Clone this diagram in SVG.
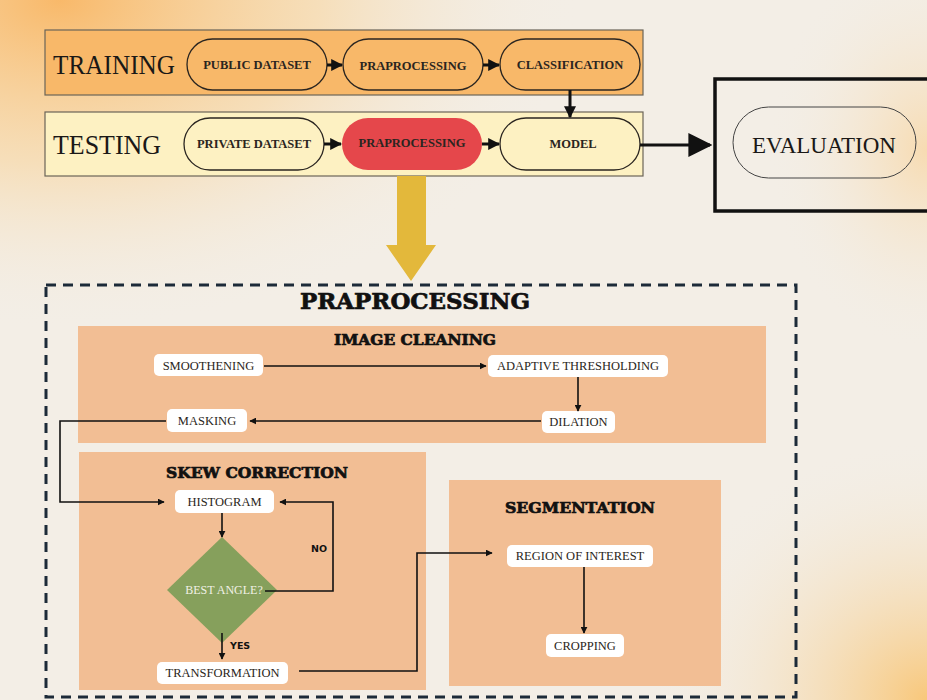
<svg xmlns="http://www.w3.org/2000/svg" width="927" height="700" viewBox="0 0 927 700">
<defs>
<radialGradient id="bgTL" cx="0" cy="0" r="1" gradientUnits="userSpaceOnUse" gradientTransform="translate(60 0) scale(520 330)">
<stop offset="0" stop-color="#F9B35C" stop-opacity="0.9"/>
<stop offset="0.5" stop-color="#F9CF8E" stop-opacity="0.5"/>
<stop offset="1" stop-color="#F3EEE6" stop-opacity="0"/>
</radialGradient>
<radialGradient id="bgBR" cx="0" cy="0" r="1" gradientUnits="userSpaceOnUse" gradientTransform="translate(927 700) scale(280 260)">
<stop offset="0" stop-color="#F9C36E" stop-opacity="0.9"/>
<stop offset="1" stop-color="#F3EEE6" stop-opacity="0"/>
</radialGradient>
<radialGradient id="bgTR" cx="0" cy="0" r="1" gradientUnits="userSpaceOnUse" gradientTransform="translate(927 150) scale(160 200)">
<stop offset="0" stop-color="#F9D39A" stop-opacity="0.7"/>
<stop offset="1" stop-color="#F3EEE6" stop-opacity="0"/>
</radialGradient>
<marker id="ah" viewBox="0 0 10 10" refX="9" refY="5" markerWidth="7" markerHeight="7" markerUnits="userSpaceOnUse" orient="auto">
<path d="M0,0 L10,5 L0,10 z" fill="#111"/>
</marker>
<marker id="ahBig" viewBox="0 0 10 10" refX="9" refY="5" markerWidth="12" markerHeight="12" markerUnits="userSpaceOnUse" orient="auto">
<path d="M0,0 L10,5 L0,10 z" fill="#111"/>
</marker>
<marker id="ahXL" viewBox="0 0 10 10" refX="9" refY="5" markerWidth="24" markerHeight="24" markerUnits="userSpaceOnUse" orient="auto">
<path d="M0,0 L10,5 L0,10 z" fill="#111"/>
</marker>
<style>
.band{stroke:#6b6458;stroke-width:1.2}
.pill{stroke:#2a2520;stroke-width:1.3}
.pt{font-family:"Liberation Serif","DejaVu Serif",serif;font-weight:bold;font-size:12.5px;fill:#2a2520;text-anchor:middle}
.big{font-family:"Liberation Serif","DejaVu Serif",serif;font-size:27px;fill:#1a1816}
.sec{fill:#F2BE94}
.lab{fill:#ffffff}
.lt{font-family:"Liberation Serif","DejaVu Serif",serif;font-size:12.5px;fill:#2a2520;text-anchor:middle}
.hd{font-family:"DejaVu Serif","Liberation Serif",serif;font-weight:900;fill:#111;stroke:#111;stroke-width:0.7;text-anchor:middle}
.ln{fill:none;stroke:#111;stroke-width:1.6}
.lnT{fill:none;stroke:#111;stroke-width:3}
.small{font-family:"DejaVu Sans","Liberation Sans",sans-serif;font-weight:bold;font-size:9.5px;fill:#111}
</style>
</defs>
<rect width="927" height="700" fill="#F3EEE6"/>
<rect width="927" height="700" fill="url(#bgTL)"/>
<rect width="927" height="700" fill="url(#bgBR)"/>
<rect width="927" height="700" fill="url(#bgTR)"/>

<g id="training-band">
<rect class="band" x="45" y="30" width="598" height="65" fill="#F8B869"/>
<text class="big" x="53" y="74" textLength="122" lengthAdjust="spacingAndGlyphs">TRAINING</text>
</g>
<g id="testing-band">
<rect class="band" x="45" y="112" width="598" height="64" fill="#FDF1C2"/>
<text class="big" x="53" y="154" textLength="108" lengthAdjust="spacingAndGlyphs">TESTING</text>
</g>

<g id="public-dataset">
<rect class="pill" x="187" y="39" width="140" height="51" rx="25.5" fill="#F8B869"/>
<text class="pt" x="257" y="69">PUBLIC DATASET</text>
</g>
<g id="praprocessing-train">
<rect class="pill" x="343" y="39" width="140" height="51" rx="25.5" fill="#F8B869"/>
<text class="pt" x="413" y="70">PRAPROCESSING</text>
</g>
<g id="classification">
<rect class="pill" x="500" y="39" width="140" height="51" rx="25.5" fill="#F8B869"/>
<text class="pt" x="570" y="69">CLASSIFICATION</text>
</g>
<g id="private-dataset">
<rect class="pill" x="184" y="118" width="140" height="52" rx="26" fill="#FDF1C2"/>
<text class="pt" x="254" y="148">PRIVATE DATASET</text>
</g>
<g id="praprocessing-test">
<rect x="342" y="118" width="140" height="52" rx="26" fill="#E5474B"/>
<text class="pt" x="412" y="147">PRAPROCESSING</text>
</g>
<g id="model">
<rect class="pill" x="500" y="118" width="140" height="52" rx="26" fill="#FDF1C2"/>
<text class="pt" x="573" y="148">MODEL</text>
</g>
<g id="evaluation">
<rect x="715" y="79" width="220" height="132" fill="none" stroke="#111" stroke-width="3.5"/>
<rect x="733" y="107" width="183" height="71" rx="35.5" fill="none" stroke="#444" stroke-width="1"/>
<text x="824" y="153" font-family="Liberation Serif,DejaVu Serif,serif" font-size="23" fill="#1a1816" text-anchor="middle">EVALUATION</text>
</g>

<g id="praprocessing-detail">
<rect x="46" y="285" width="750" height="412" fill="none" stroke="#1c2a38" stroke-width="3" stroke-dasharray="10 7"/>
<text class="hd" x="415" y="309" font-size="23" textLength="230" lengthAdjust="spacingAndGlyphs">PRAPROCESSING</text>
</g>

<g id="image-cleaning">
<rect class="sec" x="78" y="326" width="688" height="117"/>
<text class="hd" x="415" y="345" font-size="15" textLength="162" lengthAdjust="spacingAndGlyphs">IMAGE CLEANING</text>
</g>
<g id="smoothening">
<rect class="lab" x="154" y="354" width="109" height="22" rx="5"/>
<text class="lt" x="208.5" y="369.5">SMOOTHENING</text>
</g>
<g id="adaptive-thresholding">
<rect class="lab" x="488" y="355" width="180" height="22" rx="5"/>
<text class="lt" x="578" y="369.5">ADAPTIVE THRESHOLDING</text>
</g>
<g id="dilation">
<rect class="lab" x="542" y="411" width="73" height="22" rx="5"/>
<text class="lt" x="578.5" y="425.5">DILATION</text>
</g>
<g id="masking">
<rect class="lab" x="167" y="409" width="80" height="23" rx="5"/>
<text class="lt" x="207" y="424.5">MASKING</text>
</g>

<g id="skew-correction">
<rect class="sec" x="79" y="452" width="347" height="238"/>
<text class="hd" x="257" y="478" font-size="15" textLength="182" lengthAdjust="spacingAndGlyphs">SKEW CORRECTION</text>
</g>
<g id="histogram">
<rect class="lab" x="175" y="490" width="99" height="23" rx="5"/>
<text class="lt" x="224.5" y="505.5">HISTOGRAM</text>
</g>
<g id="best-angle">
<polygon points="222,537 277,590 222,643 167,590" fill="#86A05C"/>
<text x="224" y="594" font-family="Liberation Serif,DejaVu Serif,serif" font-size="12" fill="#F1F1E6" text-anchor="middle">BEST ANGLE?</text>
</g>
<g id="transformation">
<rect class="lab" x="157" y="662" width="131" height="22" rx="5"/>
<text class="lt" x="222.5" y="677">TRANSFORMATION</text>
</g>

<g id="segmentation">
<rect class="sec" x="449" y="480" width="272" height="206"/>
<text class="hd" x="580" y="513" font-size="15" textLength="150" lengthAdjust="spacingAndGlyphs">SEGMENTATION</text>
</g>
<g id="region-of-interest">
<rect class="lab" x="507" y="545" width="146" height="22" rx="5"/>
<text class="lt" x="580" y="559.5">REGION OF INTEREST</text>
</g>
<g id="cropping">
<rect class="lab" x="546" y="634" width="78" height="23" rx="5"/>
<text class="lt" x="585" y="649.5">CROPPING</text>
</g>

<g id="connectors">
<line class="lnT" x1="327" y1="65" x2="342" y2="65" marker-end="url(#ahBig)"/>
<line class="lnT" x1="483" y1="65" x2="499" y2="65" marker-end="url(#ahBig)"/>
<line class="lnT" x1="570" y1="90" x2="570" y2="117" marker-end="url(#ahBig)"/>
<line class="lnT" x1="324" y1="144" x2="341" y2="144" marker-end="url(#ahBig)"/>
<line class="lnT" x1="482" y1="144" x2="499" y2="144" marker-end="url(#ahBig)"/>
<line class="lnT" x1="640" y1="145" x2="710" y2="145" marker-end="url(#ahXL)"/>
<path d="M397,176 H426 V245 H436 L411,281 L386,245 H397 Z" fill="#E3B83B"/>
<line class="ln" x1="264" y1="366" x2="486" y2="366" marker-end="url(#ah)"/>
<line class="ln" x1="578" y1="377" x2="578" y2="411" marker-end="url(#ah)"/>
<line class="ln" x1="541" y1="421" x2="250" y2="421" marker-end="url(#ah)"/>
<polyline class="ln" points="166,421 60,421 60,502 164,502" marker-end="url(#ah)"/>
<line class="ln" x1="222" y1="513" x2="222" y2="537" marker-end="url(#ah)"/>
<polyline class="ln" points="265,591 333,591 333,502 280,502" marker-end="url(#ah)"/>
<line class="ln" x1="222" y1="633" x2="222" y2="659" marker-end="url(#ah)"/>
<polyline class="ln" points="299,671 417,671 417,553 492,553" marker-end="url(#ah)"/>
<line class="ln" x1="584" y1="567" x2="584" y2="633" marker-end="url(#ah)"/>
<text class="small" x="311" y="552">NO</text>
<text class="small" x="230" y="649">YES</text>
</g>
</svg>
